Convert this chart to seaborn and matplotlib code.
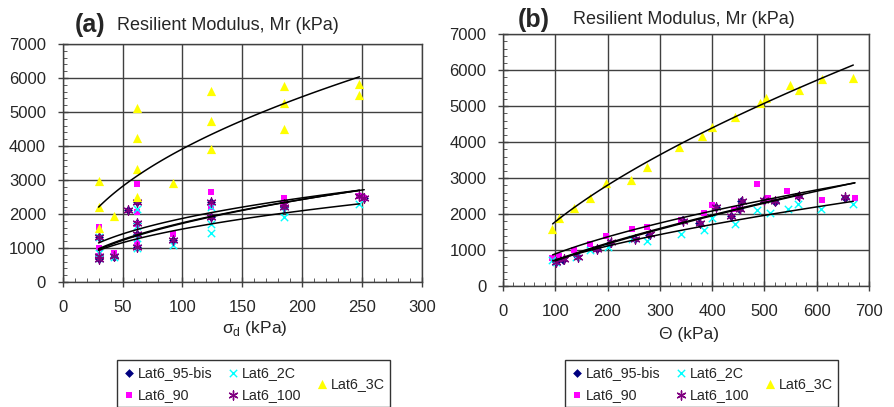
import numpy as np
import pandas as pd
import matplotlib
matplotlib.use('Agg')
import matplotlib.pyplot as plt
from matplotlib.ticker import MultipleLocator
from matplotlib.lines import Line2D
import seaborn as sns

# ---- panel (a): sigma_d data ----
a_x_95bis = [30, 30, 30, 43, 55, 62, 62, 62, 62, 92, 124, 124, 185, 185, 252]
a_y_95bis = [1320, 800, 680, 750, 2120, 2350, 1750, 1420, 1030, 1230, 2350, 1900, 2370, 2200, 2460]
a_x_90 = [30, 30, 30, 43, 62, 62, 62, 62, 92, 124, 124, 185, 185, 248, 252]
a_y_90 = [1620, 1000, 780, 850, 2880, 2070, 1700, 1150, 1400, 2650, 2200, 2470, 2350, 2530, 2460]
a_x_2c = [30, 30, 30, 43, 62, 62, 62, 62, 92, 124, 124, 124, 185, 185, 248]
a_y_2c = [1320, 850, 700, 750, 2150, 1650, 1300, 1000, 1100, 2200, 1700, 1450, 2080, 1920, 2300]
a_x_100 = [30, 30, 30, 43, 55, 62, 62, 62, 62, 92, 124, 124, 185, 185, 248, 252]
a_y_100 = [1320, 780, 680, 760, 2120, 2350, 1750, 1420, 1030, 1230, 2350, 1900, 2300, 2200, 2520, 2460]
a_x_3c = [30, 30, 30, 43, 62, 62, 62, 62, 92, 124, 124, 124, 185, 185, 185, 248, 248]
a_y_3c = [2980, 2200, 1600, 1950, 5130, 4230, 3330, 2500, 2900, 5620, 4730, 3900, 5770, 5270, 4490, 5820, 5500]

# ---- panel (b): theta data ----
b_x_95bis = [101, 115, 142, 179, 205, 252, 280, 343, 375, 407, 436, 452, 456, 499, 520, 565, 654]
b_y_95bis = [660, 730, 830, 1020, 1210, 1300, 1430, 1830, 1740, 2200, 1940, 2130, 2360, 2390, 2350, 2510, 2460]
b_x_90 = [94, 107, 136, 167, 198, 246, 276, 341, 385, 400, 442, 485, 506, 544, 565, 611, 673]
b_y_90 = [790, 850, 1010, 1170, 1380, 1600, 1630, 1840, 2040, 2260, 2140, 2850, 2450, 2640, 2500, 2390, 2440]
b_x_2c = [94, 102, 140, 167, 200, 246, 276, 341, 385, 400, 444, 485, 510, 546, 565, 609, 670]
b_y_2c = [715, 670, 800, 1010, 1090, 1310, 1250, 1460, 1570, 1880, 1720, 2110, 2030, 2140, 2280, 2130, 2280]
b_x_100 = [102, 116, 143, 180, 206, 253, 281, 344, 376, 408, 437, 453, 457, 500, 521, 566, 655]
b_y_100 = [670, 740, 820, 1030, 1220, 1310, 1440, 1820, 1750, 2210, 1950, 2140, 2370, 2380, 2360, 2500, 2470]
b_x_3c = [94, 107, 135, 167, 197, 244, 276, 337, 380, 400, 444, 491, 504, 549, 566, 610, 670]
b_y_3c = [1590, 1900, 2180, 2450, 2870, 2940, 3300, 3860, 4160, 4430, 4710, 5080, 5230, 5600, 5460, 5750, 5790]

series = ['Lat6_95-bis', 'Lat6_90', 'Lat6_2C', 'Lat6_100', 'Lat6_3C']
colors = ['#000080', '#FF00FF', '#00FFFF', '#800080', '#FFFF00']
markers = ['D', 's', 'x', (6, 2, 0), '^']
sizes = [20, 24, 28, 42, 44]

# power-law trend lines  Mr = k * x^n  (coefficients, x-range)
a_fit_k = [191, 291, 216, 178, 435]
a_fit_n = [0.48, 0.404, 0.429, 0.493, 0.477]
a_fit_range = [(30, 252), (30, 248), (30, 248), (30, 248), (30, 248)]
b_fit_k = [23.2, 54, 41.7, 25.2, 90]
b_fit_n = [0.74, 0.61, 0.62, 0.728, 0.649]
b_fit_range = [(100, 673), (95, 673), (95, 670), (100, 565), (95, 670)]

a_data = [(a_x_95bis, a_y_95bis), (a_x_90, a_y_90), (a_x_2c, a_y_2c), (a_x_100, a_y_100), (a_x_3c, a_y_3c)]
b_data = [(b_x_95bis, b_y_95bis), (b_x_90, b_y_90), (b_x_2c, b_y_2c), (b_x_100, b_y_100), (b_x_3c, b_y_3c)]

sns.set_style('white')
plt.rcParams['font.family'] = ['Liberation Sans', 'DejaVu Sans']
plt.rcParams['mathtext.fontset'] = 'custom'
plt.rcParams['mathtext.rm'] = 'Liberation Sans'

W, H = 894, 407
fig = plt.figure(figsize=(W / 100, H / 100), dpi=100)
ax_a = fig.add_axes([0.0701, 0.307, 0.4016, 0.585])
ax_b = fig.add_axes([0.5626, 0.297, 0.4094, 0.619])


def draw_panel(ax, data, fk, fn, frange, xmax, xmajor, xminor):
    for i, (xs, ys) in enumerate(data):
        df = pd.DataFrame({'x': xs, 'y': ys})
        mk = markers[i]
        line_mk = mk == 'x' or isinstance(mk, tuple)
        kw = {} if line_mk else dict(edgecolor=colors[i])
        sns.scatterplot(data=df, x='x', y='y', ax=ax, color=colors[i], marker=mk,
                        s=sizes[i], linewidth=1 if line_mk else 0,
                        label=series[i], zorder=3, **kw)
    for i in range(len(data)):
        xx = np.linspace(frange[i][0], frange[i][1], 100)
        ax.plot(xx, fk[i] * xx ** fn[i], color='black', lw=1.1, zorder=4)
    ax.set_xlim(0, xmax)
    ax.set_ylim(0, 7000)
    ax.xaxis.set_major_locator(MultipleLocator(xmajor))
    ax.xaxis.set_minor_locator(MultipleLocator(xminor))
    ax.yaxis.set_major_locator(MultipleLocator(1000))
    ax.yaxis.set_minor_locator(MultipleLocator(200))
    ax.grid(True, which='major', color='#404040', lw=1.0)
    ax.set_axisbelow(True)
    ax.tick_params(which='major', direction='inout', length=7, width=1, labelsize=12,
                   color='#404040', bottom=True, left=True)
    ax.tick_params(axis='y', which='major', pad=8.5)
    ax.tick_params(axis='x', which='major', pad=9.5)
    ax.tick_params(which='minor', direction='in', length=3, color='#404040', bottom=True, left=True)
    for sp in ax.spines.values():
        sp.set_color('#404040')
        sp.set_linewidth(1.0)
    ax.set_xlabel('')
    ax.set_ylabel('')
    ax.get_legend().remove()


draw_panel(ax_a, a_data, a_fit_k, a_fit_n, a_fit_range, 300, 50, 10)
draw_panel(ax_b, b_data, b_fit_k, b_fit_n, b_fit_range, 700, 100, 20)

# titles
fig.text(75 / W, 1 - 25 / H, '(a)', fontsize=18, fontweight='bold', va='center')
fig.text(117 / W, 1 - 25.5 / H, 'Resilient Modulus, Mr (kPa)', fontsize=13, va='center')
fig.text(518 / W, 1 - 20 / H, '(b)', fontsize=18, fontweight='bold', va='center')
fig.text(573 / W, 1 - 19.5 / H, 'Resilient Modulus, Mr (kPa)', fontsize=13, va='center')

# axis labels
fig.text(255 / W, 1 - 329 / H, r'σ$_{\mathrm{d}}$ (kPa)', fontsize=12.5, ha='center', va='center')
fig.text(689 / W, 1 - 334 / H, 'Θ (kPa)', fontsize=12.5, ha='center', va='center')

# legends (Lat6_3C sits centred in its own column, as in the original)
handles, labels = ax_a.get_legend_handles_labels()
blank = Line2D([], [], linestyle='none')
fs = 10.3
hl, htp = 0.85, 0.2
for left in (117 / W, 565 / W):
    leg = fig.legend(handles[:4] + [blank, blank], labels[:4] + [labels[4], labels[4]],
                     loc='upper left', bbox_to_anchor=(left, 1 - 360 / H),
                     ncol=3, fontsize=fs, frameon=True, fancybox=False, edgecolor='black',
                     handletextpad=htp, columnspacing=1.0, labelspacing=0.55,
                     borderpad=0.4, handlelength=hl, borderaxespad=0)
    leg.get_frame().set_linewidth(1.0)
    leg.texts[4].set_alpha(0)
    leg.texts[5].set_alpha(0)
    fig.canvas.draw()
    r = fig.canvas.get_renderer()
    b4 = leg.texts[4].get_window_extent(r)
    b5 = leg.texts[5].get_window_extent(r)
    ymid = (b4.y0 + b4.y1 + b5.y0 + b5.y1) / 4
    x0 = b4.x0 - (hl + htp) * fs * 100 / 72
    fig.legend([handles[4]], [labels[4]], loc='center left',
               bbox_to_anchor=(x0 / W, ymid / H), fontsize=fs, frameon=False,
               handletextpad=htp, handlelength=hl, borderpad=0, borderaxespad=0)

fig.savefig('out.png', dpi=100)
